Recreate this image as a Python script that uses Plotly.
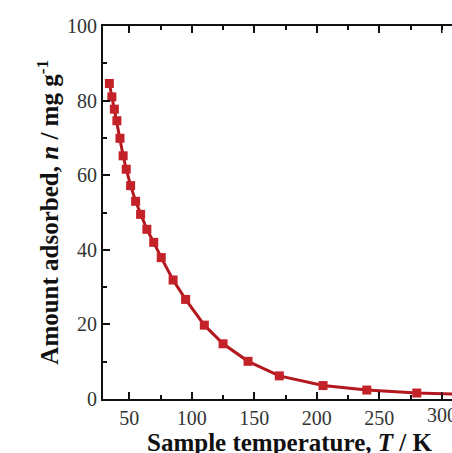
import plotly.graph_objects as go

temperature_K = [34, 36, 38, 40, 42.5, 45, 47.5, 51, 55, 59, 64, 69.5, 75.5, 85, 95,
                 110, 125, 145, 170, 205, 240, 280, 320]
amount_mg_g = [84.6, 81.0, 77.7, 74.6, 69.9, 65.2, 61.6, 57.2, 53.0, 49.5, 45.5, 42.0,
               37.9, 31.9, 26.7, 19.8, 14.8, 10.1, 6.2, 3.6, 2.4, 1.6, 1.2]

x_ticks = [50, 100, 150, 200, 250, 300]
y_ticks = [0, 20, 40, 60, 80, 100]

fig = go.Figure()
fig.add_trace(go.Scatter(
    x=temperature_K, y=amount_mg_g, mode="lines+markers",
    line=dict(color="#b3181f", width=3),
    marker=dict(symbol="square", size=9, color="#c42229", line=dict(width=0)),
    cliponaxis=True, showlegend=False,
))

font_serif = "Liberation Serif, Times New Roman, serif"
tick_font = dict(size=20, color="#333", family=font_serif)
fig.update_layout(
    width=452, height=453,
    margin=dict(l=103, r=0, t=26, b=54),
    paper_bgcolor="white", plot_bgcolor="white",
    font=dict(family=font_serif, color="#222"),
    xaxis=dict(range=[28.9, 308.2], tickvals=x_ticks[:-1], ticks="inside", ticklen=7,
               tickwidth=1.5, tickcolor="#111", showline=True, linecolor="#111",
               linewidth=1.8, mirror="ticks", showgrid=False, zeroline=False,
               tickfont=tick_font,
               minor=dict(dtick=25, tick0=0, ticks="inside", ticklen=4, tickwidth=1.5,
                          tickcolor="#111", showgrid=False)),
    yaxis=dict(range=[0, 100], tickvals=y_ticks, ticks="inside", ticklen=7,
               tickwidth=1.5, tickcolor="#111", showline=True, linecolor="#111",
               linewidth=1.8, mirror=False, showgrid=False, zeroline=False,
               tickfont=tick_font,
               minor=dict(dtick=10, tick0=0, ticks="inside", ticklen=4, tickwidth=1.5,
                          tickcolor="#111", showgrid=False)),
    shapes=[
        dict(type="line", xref="x", yref="paper", x0=x_ticks[-1], x1=x_ticks[-1],
             y0=0, y1=7 / 373, line=dict(color="#111", width=1.5)),
        dict(type="line", xref="x", yref="paper", x0=x_ticks[-1], x1=x_ticks[-1],
             y0=1, y1=1 - 7 / 373, line=dict(color="#111", width=1.5)),
    ],
    annotations=[
        dict(text=str(x_ticks[-1]), xref="x", yref="paper", x=x_ticks[-1], y=-0.043,
             xanchor="center", yanchor="middle", showarrow=False, font=tick_font),
        dict(text="<b>Sample temperature, <i>T</i> / K</b>", xref="paper", yref="paper",
             x=0.533, y=-0.075, xanchor="center", yanchor="top", showarrow=False,
             font=dict(size=25, color="#111", family=font_serif)),
        dict(text="<b>Amount adsorbed, <i>n</i> / mg g<sup>-1</sup></b>", xref="paper",
             yref="paper", x=-0.16, y=0.5, xanchor="center", yanchor="middle",
             textangle=-90, showarrow=False,
             font=dict(size=25, color="#111", family=font_serif)),
    ],
)

fig.write_html("out.html")
